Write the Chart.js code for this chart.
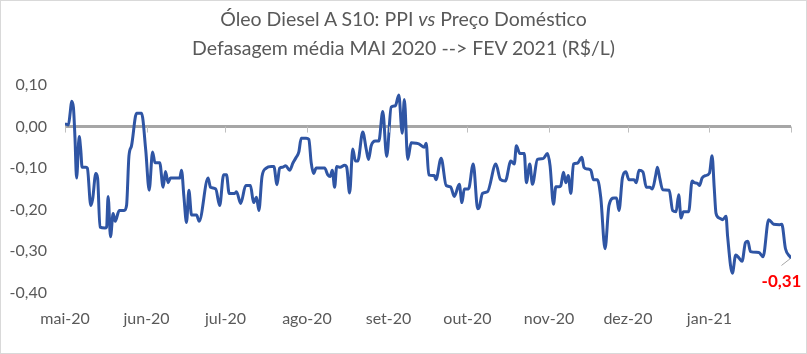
<!DOCTYPE html>
<html>
<head>
<meta charset="utf-8">
<script src="https://cdn.jsdelivr.net/npm/chart.js@4/dist/chart.umd.min.js"></script>
<style>
  html, body { margin: 0; padding: 0; background: #ffffff; }
  #wrap { position: relative; width: 807px; height: 354px; }
  #title { position: absolute; left: 0; top: 4px; width: 807px; text-align: center;
           font-family: Lato, "Open Sans", sans-serif; font-size: 19.5px; line-height: 29px; color: #595959; }
  canvas { position: absolute; left: 0; top: 0; }
</style>
</head>
<body>
<div id="wrap">
  <canvas id="c" width="807" height="354"></canvas>
  <div id="title">Óleo Diesel A S10: PPI <i>vs</i> Preço Doméstico<br>Defasagem média MAI 2020 --&gt; FEV 2021 (R$/L)</div>
</div>
<script>
// days since 1 May 2020
const dayOffsets = [
  0.4, 1.3, 2.0, 2.5, 3.2, 3.8, 4.4, 5.4, 6.0, 6.5, 8.0, 8.5, 9.8, 10.5, 11.7, 12.4, 13.3, 15.2, 15.8, 16.4,
  17.3, 18.3, 19.1, 20.6, 22.5, 23.4, 24.3, 25.3, 27.2, 29.1, 30.7, 32.0, 33.3, 34.2, 36.0, 37.3, 38.2, 39.2, 40.1, 43.6,
  44.3, 45.2, 46.2, 47.1, 48.1, 50.0, 51.0, 54.4, 55.3, 57.3, 58.8, 60.3, 61.4, 62.4, 64.5, 65.2, 66.8, 68.7, 70.5, 71.7,
  72.8, 73.7, 74.9, 76.5, 78.4, 79.4, 80.6, 81.6, 82.8, 83.9, 85.4, 86.7, 87.9, 88.9, 89.8, 91.7, 92.7, 93.6, 94.5, 95.5,
  98.7, 99.9, 100.8, 101.6, 102.5, 103.3, 104.6, 106.3, 107.1, 108.2, 109.4, 110.4, 111.3, 113.2, 114.5, 115.4, 116.4, 118.0, 119.3, 120.8,
  122.3, 124.0, 125.6, 126.9, 128.2, 129.0, 130.3, 131.6, 133.5, 134.7, 136.6, 137.3, 138.3, 140.4, 141.0, 143.0, 144.9, 146.6, 148.0, 149.9,
  150.9, 151.8, 153.4, 155.2, 156.9, 157.5, 158.7, 160.6, 163.8, 165.5, 167.4, 169.5, 170.8, 171.6, 172.9, 174.6, 175.4, 176.7, 177.7, 179.6,
  181.8, 183.4, 184.4, 185.7, 186.6, 187.9, 188.5, 189.5, 190.4, 191.3, 192.3, 193.3, 194.8, 196.5, 197.3, 198.6, 199.9, 200.9, 202.4, 203.7,
  205.3, 206.8, 208.7, 209.7, 210.6, 211.9, 213.2, 214.4, 216.3, 217.2, 218.2, 219.7, 221.0, 222.3, 223.3, 224.6, 225.2, 226.1, 227.2, 229.7,
  231.0, 232.3, 233.3, 234.2, 235.1, 237.1, 238.4, 239.2, 240.5, 241.2, 242.2, 243.5, 245.0, 246.0, 246.8, 247.5, 248.7, 250.0, 251.3, 251.9,
  253.7, 255.0, 256.2, 257.4, 258.7, 259.6, 260.6, 263.8, 265.4, 267.5, 269.4, 271.7, 272.5, 273.9, 275.8
];
const gapValues = [
  0.006, 0.004, 0.035, 0.061, 0.046, -0.028, -0.124, -0.024, -0.057, -0.098, -0.098, -0.100, -0.190, -0.175, -0.113, -0.124, -0.242, -0.244, -0.242, -0.168,
  -0.265, -0.209, -0.228, -0.202, -0.202, -0.190, -0.072, -0.046, 0.032, 0.032, -0.057, -0.153, -0.061, -0.087, -0.087, -0.146, -0.108, -0.135, -0.124, -0.124,
  -0.105, -0.168, -0.231, -0.153, -0.213, -0.213, -0.228, -0.124, -0.146, -0.150, -0.190, -0.116, -0.116, -0.161, -0.161, -0.157, -0.185, -0.142, -0.142, -0.183,
  -0.170, -0.202, -0.120, -0.100, -0.096, -0.096, -0.140, -0.100, -0.098, -0.094, -0.105, -0.087, -0.074, -0.061, -0.028, -0.028, -0.031, -0.087, -0.113, -0.100,
  -0.100, -0.116, -0.120, -0.105, -0.146, -0.096, -0.098, -0.093, -0.098, -0.160, -0.054, -0.083, -0.083, -0.013, -0.054, -0.079, -0.046, -0.035, -0.035, 0.036,
  -0.072, 0.047, 0.050, 0.076, -0.016, 0.065, -0.079, -0.039, -0.040, -0.042, -0.050, -0.040, -0.116, -0.118, -0.128, -0.076, -0.142, -0.145, -0.168, -0.139,
  -0.183, -0.150, -0.150, -0.090, -0.198, -0.194, -0.161, -0.157, -0.090, -0.127, -0.131, -0.083, -0.090, -0.046, -0.065, -0.065, -0.135, -0.090, -0.139, -0.079,
  -0.077, -0.065, -0.094, -0.187, -0.145, -0.145, -0.142, -0.110, -0.135, -0.118, -0.161, -0.090, -0.088, -0.074, -0.098, -0.102, -0.105, -0.128, -0.128, -0.172,
  -0.294, -0.190, -0.172, -0.172, -0.202, -0.124, -0.109, -0.128, -0.128, -0.135, -0.105, -0.109, -0.146, -0.146, -0.150, -0.116, -0.098, -0.124, -0.152, -0.153,
  -0.202, -0.205, -0.164, -0.220, -0.205, -0.205, -0.131, -0.135, -0.137, -0.142, -0.124, -0.118, -0.112, -0.070, -0.146, -0.209, -0.220, -0.224, -0.216, -0.264,
  -0.353, -0.309, -0.316, -0.324, -0.279, -0.276, -0.301, -0.303, -0.313, -0.224, -0.235, -0.236, -0.235, -0.294, -0.315
];
const monthTickDays = [0, 31, 61, 92, 123, 153, 184, 214, 245, 276];
const monthTickLabels = ['mai-20', 'jun-20', 'jul-20', 'ago-20', 'set-20', 'out-20', 'nov-20', 'dez-20', 'jan-21', ''];
const lastValueLabel = '-0,31';

const points = dayOffsets.map((d, i) => ({ x: d, y: gapValues[i] }));
const FONT = 'Lato, "Open Sans", sans-serif';

const extras = {
  id: 'extras',
  beforeDraw(chart) {
    const ctx = chart.ctx;
    ctx.save();
    ctx.strokeStyle = '#d9d9d9';
    ctx.lineWidth = 1;
    ctx.strokeRect(0.5, 0.5, 806, 353);
    ctx.restore();
  },
  afterDraw(chart) {
    const ctx = chart.ctx;
    const xs = chart.scales.x, ys = chart.scales.y;
    const y0 = ys.getPixelForValue(0);
    ctx.save();
    ctx.strokeStyle = '#bfbfbf';
    ctx.lineWidth = 1;
    monthTickDays.forEach(d => {
      const px = Math.round(xs.getPixelForValue(d)) + 0.5;
      ctx.beginPath(); ctx.moveTo(px, y0); ctx.lineTo(px, y0 + 6); ctx.stroke();
    });
    const meta = chart.getDatasetMeta(0);
    const last = meta.data[meta.data.length - 1];
    ctx.strokeStyle = '#a6a6a6';
    ctx.beginPath(); ctx.moveTo(last.x - 9, last.y + 8); ctx.lineTo(last.x, last.y + 1); ctx.stroke();
    ctx.fillStyle = '#ff0000';
    ctx.font = 'bold 17px ' + FONT;
    ctx.textAlign = 'right';
    ctx.textBaseline = 'middle';
    ctx.fillText(lastValueLabel, last.x + 11, last.y + 24);
    ctx.restore();
  }
};

new Chart(document.getElementById('c'), {
  type: 'line',
  data: {
    datasets: [{
      data: points,
      borderColor: '#2f55a4',
      borderWidth: 3,
      pointRadius: 0,
      cubicInterpolationMode: 'monotone',
      borderJoinStyle: 'round',
      borderCapStyle: 'round',
      fill: false
    }]
  },
  options: {
    responsive: false,
    devicePixelRatio: 1,
    animation: false,
    layout: { padding: { top: 85, left: 0, right: 15, bottom: 10 } },
    plugins: { legend: { display: false }, title: { display: false }, tooltip: { enabled: false } },
    scales: {
      x: {
        type: 'linear',
        min: 0, max: 276,
        afterBuildTicks(scale) { scale.ticks = monthTickDays.map(v => ({ value: v })); },
        grid: { display: false, drawTicks: false },
        border: { display: false },
        ticks: {
          autoSkip: false, maxRotation: 0, padding: 16,
          color: '#595959', font: { family: FONT, size: 16 },
          callback(v) { const i = monthTickDays.indexOf(v); return i >= 0 ? monthTickLabels[i] : ''; }
        }
      },
      y: {
        min: -0.4, max: 0.1,
        afterFit(scale) { scale.width = 65; },
        grid: {
          drawTicks: false,
          color(ctx) { return Math.abs(ctx.tick.value) < 1e-9 ? '#a6a6a6' : 'rgba(0,0,0,0)'; },
          lineWidth(ctx) { return Math.abs(ctx.tick.value) < 1e-9 ? 3 : 0; }
        },
        border: { display: false },
        ticks: {
          stepSize: 0.1, padding: 18,
          color: '#595959', font: { family: FONT, size: 16 },
          callback(v) { return (Math.round(v * 100) / 100).toFixed(2).replace('.', ','); }
        }
      }
    }
  },
  plugins: [extras]
});
</script>
</body>
</html>
